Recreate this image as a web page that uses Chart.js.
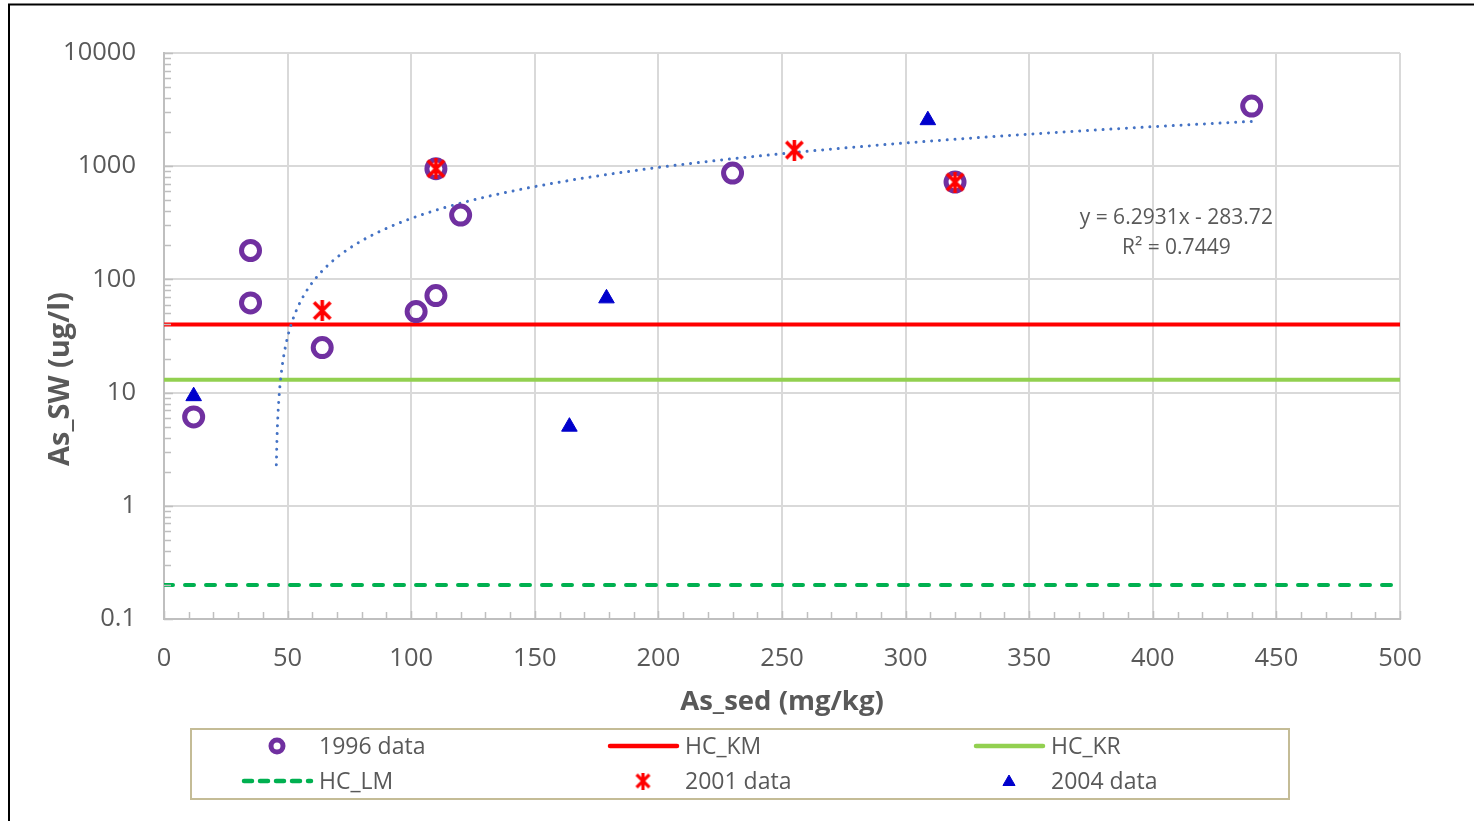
<!DOCTYPE html>
<html>
<head>
<meta charset="utf-8">
<title>As_SW vs As_sed</title>
<script src="https://cdn.jsdelivr.net/npm/chart.js@4.4.1/dist/chart.umd.min.js"></script>
<style>
  html, body { margin: 0; padding: 0; background: #fff; }
  canvas { display: block; }
</style>
</head>
<body>
<canvas id="asChart" width="1474" height="821"></canvas>
<script>
// sampling campaigns: sediment As (mg/kg) vs surface water As (ug/l)
const data1996X = [12, 35, 35, 64, 102, 110, 110, 120, 230, 320, 440];
const data1996Y = [6.1, 180, 62, 25, 52, 72, 950, 370, 870, 725, 3400];
const data2001X = [64, 110, 255, 320];
const data2001Y = [53, 950, 1390, 725];
const data2004X = [12, 164, 179, 309];
const data2004Y = [9.3, 5, 68, 2550];

// guideline levels (ug/l)
const hcKM = 40;
const hcKR = 13;
const hcLM = 0.2;
const xRange = [0, 500];

// linear trend fitted to all data
const trendSlope = 6.2931;
const trendIntercept = -283.72;
const trendR2 = 0.7449;
const trendStart = 45.45;
const trendEnd = 440;

const yTicks = [0.1, 1, 10, 100, 1000, 10000];

const FONT = "'Open Sans', 'DejaVu Sans', sans-serif";
const TEXT = '#595959';

function toPoints(xs, ys) {
  return xs.map((x, i) => ({ x: x, y: ys[i] }));
}

function level(v) {
  return xRange.map(x => ({ x: x, y: v }));
}

// trend curve, sampled densely where it drops on the log axis
const trendPts = [];
for (let x = trendStart; x < trendEnd; x += (x < 60 ? 0.25 : 2)) {
  trendPts.push({ x: x, y: trendSlope * x + trendIntercept });
}
trendPts.push({ x: trendEnd, y: trendSlope * trendEnd + trendIntercept });

// excel style "star" marker: an x with a vertical bar
function starMarker(size, lw) {
  const c = document.createElement('canvas');
  c.width = size; c.height = size;
  const g = c.getContext('2d');
  const m = lw / 2 + 0.5;
  g.strokeStyle = '#ff0000';
  g.lineWidth = lw;
  g.beginPath();
  g.moveTo(m, m); g.lineTo(size - m, size - m);
  g.moveTo(size - m, m); g.lineTo(m, size - m);
  g.moveTo(size / 2, 0); g.lineTo(size / 2, size);
  g.stroke();
  return c;
}
const starBig = starMarker(21, 3.6);
const starSmall = starMarker(17, 3.2);

const datasets = [
  {
    label: '1996 data', data: toPoints(data1996X, data1996Y),
    pointStyle: 'circle', pointRadius: 9, borderWidth: 5,
    borderColor: '#7030a0', backgroundColor: 'rgba(0,0,0,0)',
    showLine: false, order: 3
  },
  {
    label: 'HC_KM', data: level(hcKM), showLine: true, pointRadius: 0,
    borderColor: '#ff0000', borderWidth: 4, order: 5
  },
  {
    label: 'HC_KR', data: level(hcKR), showLine: true, pointRadius: 0,
    borderColor: '#92d050', borderWidth: 4, order: 5
  },
  {
    label: 'HC_LM', data: level(hcLM), showLine: true, pointRadius: 0,
    borderColor: '#00b050', borderWidth: 4, borderDash: [9, 12], borderCapStyle: 'round',
    order: 5
  },
  {
    label: '2001 data', data: toPoints(data2001X, data2001Y),
    pointStyle: starBig, legendStyle: starSmall, pointRadius: 10,
    borderColor: '#ff0000', backgroundColor: '#ff0000',
    showLine: false, order: 1
  },
  {
    label: '2004 data', data: toPoints(data2004X, data2004Y),
    pointStyle: 'triangle', pointRadius: 9, borderWidth: 1,
    borderColor: '#0000cc', backgroundColor: '#0000cc',
    showLine: false, order: 2
  },
  {
    label: 'trend', data: trendPts, showLine: true, pointRadius: 0,
    borderColor: '#4472c4', borderWidth: 3, borderDash: [0.01, 7.8], borderCapStyle: 'round',
    order: 4
  }
];

// frame, minor ticks, y title, trend equation and the boxed legend
const extras = {
  id: 'extras',
  beforeDraw(chart) {
    const c = chart.ctx;
    c.save();
    c.fillStyle = '#fff';
    c.fillRect(0, 0, chart.width, chart.height);
    c.strokeStyle = '#000';
    c.lineWidth = 2;
    c.strokeRect(9, 4.5, chart.width + 20, chart.height + 20);
    c.restore();
  },
  afterDraw(chart) {
    const c = chart.ctx;
    const xs = chart.scales.x, ys = chart.scales.y;
    const area = chart.chartArea;
    c.save();

    // minor ticks pointing into the plot
    c.strokeStyle = '#bfbfbf';
    c.lineWidth = 1.5;
    c.beginPath();
    for (let v = xRange[0]; v <= xRange[1]; v += 10) {
      const px = Math.round(xs.getPixelForValue(v)) + 0.5;
      c.moveTo(px, area.bottom);
      c.lineTo(px, area.bottom - (v % 50 === 0 ? 8 : 7));
    }
    for (let d = 0.1; d < 10000; d *= 10) {
      for (let k = 1; k <= 10; k++) {
        const py = Math.round(ys.getPixelForValue(d * k)) + 0.5;
        c.moveTo(area.left, py);
        c.lineTo(area.left + (k === 1 || k === 10 ? 9 : 7), py);
      }
    }
    c.stroke();

    // y axis title
    c.fillStyle = TEXT;
    c.font = 'bold 29px ' + FONT;
    c.textAlign = 'center';
    c.textBaseline = 'middle';
    c.translate(61, 379);
    c.rotate(-Math.PI / 2);
    c.fillText('As_SW (ug/l)', 0, 0);
    c.setTransform(1, 0, 0, 1, 0, 0);

    // trend equation
    c.font = '21px ' + FONT;
    const ex = xs.getPixelForValue(409.5);
    const ey = ys.getPixelForValue(348);
    c.fillText('y = ' + trendSlope + 'x - ' + Math.abs(trendIntercept), ex, ey);
    c.fillText('R\u00b2 = ' + trendR2, ex, ey + 30);

    // legend box
    c.strokeStyle = '#c4bc96';
    c.lineWidth = 2;
    c.strokeRect(191, 729, 1098, 70);
    const colX = [277, 643, 1009];
    const rowY = [746, 781];
    c.font = '23px ' + FONT;
    c.textAlign = 'left';
    chart.data.datasets.slice(0, 6).forEach((ds, i) => {
      const cx = colX[i % 3], cy = rowY[Math.floor(i / 3)];
      if (ds.showLine) {
        c.strokeStyle = ds.borderColor;
        c.lineWidth = 4.5;
        c.lineCap = 'round';
        c.setLineDash(ds.borderDash ? [8, 8] : []);
        c.beginPath();
        c.moveTo(cx - 33, cy);
        c.lineTo(cx + 34, cy);
        c.stroke();
        c.setLineDash([]);
        c.lineCap = 'butt';
      } else if (ds.legendStyle) {
        const s = ds.legendStyle;
        c.drawImage(s, cx - s.width / 2, cy - s.height / 2);
      } else {
        c.strokeStyle = ds.borderColor;
        c.fillStyle = ds.backgroundColor;
        c.lineWidth = ds.pointStyle === 'circle' ? 5 : 1;
        Chart.helpers.drawPoint(c, {
          pointStyle: ds.pointStyle,
          radius: ds.pointStyle === 'circle' ? 6 : 7,
          borderWidth: c.lineWidth, rotation: 0
        }, cx, cy + (ds.pointStyle === 'triangle' ? 1 : 0));
      }
      c.fillStyle = TEXT;
      c.fillText(ds.label, cx + 42, cy + 1);
    });
    c.restore();
  }
};

new Chart(document.getElementById('asChart'), {
  type: 'scatter',
  data: { datasets: datasets },
  options: {
    responsive: false,
    animation: false,
    devicePixelRatio: 1,
    layout: { padding: { left: 0, top: 53, right: 74, bottom: 92 } },
    plugins: {
      legend: { display: false },
      tooltip: { enabled: false }
    },
    scales: {
      x: {
        type: 'linear',
        min: xRange[0], max: xRange[1],
        afterFit: s => { s.height = 110; },
        ticks: { stepSize: 50, padding: 24, color: TEXT, font: { family: FONT, size: 25.5 } },
        grid: { color: '#d9d9d9', lineWidth: 2, drawTicks: false },
        border: { color: '#bfbfbf', width: 2 },
        title: {
          display: true, text: 'As_sed (mg/kg)', color: TEXT,
          font: { family: FONT, size: 27.5, weight: 'bold' },
          padding: { top: 0, bottom: 10 }
        }
      },
      y: {
        type: 'logarithmic',
        min: yTicks[0], max: yTicks[yTicks.length - 1],
        afterFit: s => { s.width = 164; },
        afterBuildTicks: s => { s.ticks = yTicks.map(v => ({ value: v })); },
        ticks: {
          padding: 28, color: TEXT, font: { family: FONT, size: 25.5 },
          callback: v => String(v)
        },
        grid: { color: '#d9d9d9', lineWidth: 2, drawTicks: false },
        border: { color: '#bfbfbf', width: 2 }
      }
    }
  },
  plugins: [extras]
});
</script>
</body>
</html>
